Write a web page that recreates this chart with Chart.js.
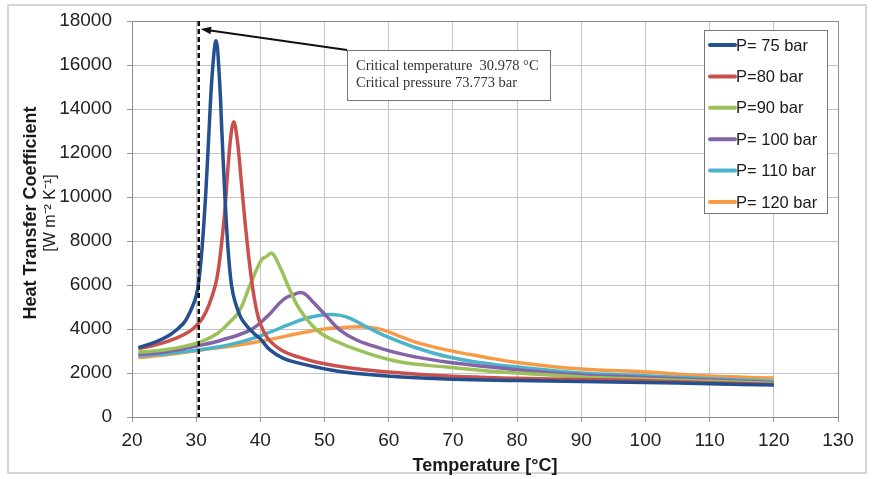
<!DOCTYPE html>
<html>
<head>
<meta charset="utf-8">
<script src="https://cdn.jsdelivr.net/npm/chart.js@4/dist/chart.umd.min.js"></script>
<style>
html, body { margin: 0; padding: 0; background: #fff; }
</style>
</head>
<body>
<canvas id="htc" width="874" height="479"></canvas>
<script>
// values (temperature in °C, HTC in W m-2 K-1)
const pressures = ['P= 75 bar', 'P=80 bar', 'P=90 bar', 'P= 100 bar', 'P= 110 bar', 'P= 120 bar'];
const colors = ['#24508F', '#C9504D', '#9BC25A', '#8464A6', '#4BB3CC', '#F79A46'];

const tempP75 = [21, 24, 26, 28, 29, 30, 30.5, 31, 31.5, 32, 32.5, 33.1, 33.6, 34, 34.5, 35, 35.5, 36, 37, 38, 39, 40, 41.5, 43.5, 46, 51, 56, 62, 70, 80, 90, 100, 110, 120];
const htcP75  = [3150, 3450, 3750, 4250, 4750, 5500, 6400, 8000, 10200, 13000, 15600, 17100, 15500, 13000, 9900, 7500, 6000, 5300, 4500, 4100, 3800, 3550, 3050, 2680, 2450, 2140, 1950, 1820, 1720, 1660, 1610, 1570, 1510, 1450];

const tempP80 = [21, 24, 27, 29, 30, 31, 32, 33, 33.5, 34, 34.5, 35, 35.5, 35.9, 36.4, 37, 37.6, 38.3, 39, 39.7, 40.5, 41.5, 43.5, 46, 49, 54, 62, 70, 80, 90, 100, 110, 120];
const htcP80  = [3100, 3300, 3600, 3900, 4150, 4500, 5100, 6000, 6800, 8000, 9500, 11500, 13000, 13400, 12600, 10800, 8900, 7000, 5500, 4500, 3900, 3450, 3000, 2720, 2480, 2230, 2000, 1850, 1760, 1700, 1650, 1560, 1480];

const tempP90 = [21, 25, 28, 31, 33.4, 35, 36.7, 38.4, 40.2, 41, 41.8, 43, 44.6, 46.2, 48.8, 51.3, 56.6, 61.8, 69, 75, 80, 90, 100, 110, 120];
const htcP90  = [2950, 3050, 3200, 3450, 3820, 4250, 4800, 6000, 7150, 7300, 7450, 6850, 5770, 4860, 3950, 3500, 2900, 2500, 2270, 2100, 2000, 1820, 1720, 1630, 1520];

const tempP100 = [21, 25, 30.8, 34, 38.4, 41, 43.5, 45, 46.6, 48.2, 50.4, 52.4, 55, 59, 61.8, 64, 69, 75, 80, 90, 100, 110, 120];
const htcP100  = [2850, 2950, 3270, 3500, 3950, 4550, 5320, 5550, 5640, 5230, 4550, 3950, 3500, 3100, 2880, 2740, 2500, 2300, 2150, 1910, 1800, 1680, 1560];

const tempP110 = [21, 26, 33.4, 38, 41.2, 44, 46.3, 48.5, 50.7, 52.5, 54, 56.6, 59.1, 61.8, 64, 69, 75, 80, 90, 100, 110, 120];
const htcP110  = [2780, 2900, 3180, 3500, 3820, 4150, 4410, 4580, 4660, 4620, 4480, 4090, 3730, 3410, 3170, 2750, 2440, 2270, 2000, 1880, 1740, 1620];

const tempP120 = [21, 26, 30.7, 35, 38.5, 42, 46.3, 50, 53, 55.2, 57, 59.2, 61.5, 64.4, 69, 75, 79.5, 90, 100, 110, 120];
const htcP120  = [2700, 2850, 3050, 3200, 3360, 3550, 3820, 4000, 4070, 4100, 4070, 3950, 3690, 3380, 3050, 2720, 2500, 2180, 2050, 1860, 1770];

const xTicks = [20, 30, 40, 50, 60, 70, 80, 90, 100, 110, 120, 130];
const yTicks = [0, 2000, 4000, 6000, 8000, 10000, 12000, 14000, 16000, 18000];

const critLineT = 30.4;   // where the dashed marker sits in the picture
const critText = ['Critical temperature  30.978 °C', 'Critical pressure 73.773 bar'];

const temps = [tempP75, tempP80, tempP90, tempP100, tempP110, tempP120];
const htcs = [htcP75, htcP80, htcP90, htcP100, htcP110, htcP120];

const SANS = '"Liberation Sans", Arial, sans-serif';

const datasets = pressures.map((label, i) => ({
    label: label,
    data: temps[i].map((t, j) => ({ x: t, y: htcs[i][j] })),
    borderColor: colors[i],
    backgroundColor: colors[i],
    borderWidth: 3.5,
    pointRadius: 0,
    tension: 0.4,
    fill: false
}));

// frame, dashed line, annotation, legend and y title
const extras = {
    id: 'extras',
    beforeDraw(chart) {
        const c = chart.ctx;
        c.save();
        c.fillStyle = '#fff';
        c.fillRect(0, 0, chart.width, chart.height);
        c.strokeStyle = '#c8c8c8';
        c.lineWidth = 1.5;
        c.strokeRect(8, 5, 858, 468);
        c.restore();
    },
    afterDatasetsDraw(chart) {
        const c = chart.ctx;
        const a = chart.chartArea;
        const xs = chart.scales.x;
        c.save();

        // critical temperature marker
        const xc = xs.getPixelForValue(critLineT);
        c.strokeStyle = '#111';
        c.lineWidth = 2.5;
        c.setLineDash([5, 3]);
        c.beginPath();
        c.moveTo(xc, a.top);
        c.lineTo(xc, a.bottom);
        c.stroke();
        c.setLineDash([]);

        // annotation box + arrow
        const bx = 347, by = 50, bw = 203, bh = 50;
        c.fillStyle = '#fff';
        c.fillRect(bx, by, bw, bh);
        c.strokeStyle = '#777';
        c.lineWidth = 1;
        c.strokeRect(bx + 0.5, by + 0.5, bw, bh);
        c.fillStyle = '#333';
        c.font = '14.5px "Liberation Serif", serif';
        c.textBaseline = 'middle';
        c.textAlign = 'left';
        c.fillText(critText[0], bx + 9, by + 16);
        c.fillText(critText[1], bx + 9, by + 33);

        const ax0 = bx, ay0 = by, ax1 = xc + 2, ay1 = a.top + 8;
        c.strokeStyle = '#111';
        c.lineWidth = 1.8;
        c.beginPath();
        c.moveTo(ax0, ay0);
        c.lineTo(ax1 + 6, ay1 + 1);
        c.stroke();
        const ang = Math.atan2(ay0 - ay1, ax0 - ax1);
        c.fillStyle = '#111';
        c.beginPath();
        c.moveTo(ax1, ay1);
        c.lineTo(ax1 + 11 * Math.cos(ang - 0.35), ay1 + 11 * Math.sin(ang - 0.35));
        c.lineTo(ax1 + 11 * Math.cos(ang + 0.35), ay1 + 11 * Math.sin(ang + 0.35));
        c.closePath();
        c.fill();

        // legend
        const lx = 704, ly = 30, lw = 123, lh = 183;
        c.fillStyle = '#fff';
        c.fillRect(lx, ly, lw, lh);
        c.strokeStyle = '#777';
        c.lineWidth = 1;
        c.strokeRect(lx + 0.5, ly + 0.5, lw, lh);
        c.font = '16.5px ' + SANS;
        c.textBaseline = 'middle';
        chart.data.datasets.forEach((ds, i) => {
            const yy = 45 + i * 31.4;
            c.strokeStyle = ds.borderColor;
            c.lineWidth = 4;
            c.lineCap = 'round';
            c.beginPath();
            c.moveTo(710, yy);
            c.lineTo(735, yy);
            c.stroke();
            c.fillStyle = '#1a1a1a';
            c.fillText(ds.label, 736, yy + 1);
        });

        // y axis title, two lines
        c.fillStyle = '#1a1a1a';
        c.textAlign = 'center';
        c.translate(31, (a.top + a.bottom) / 2 - 6);
        c.rotate(-Math.PI / 2);
        c.font = 'bold 18px ' + SANS;
        c.fillText('Heat Transfer Coefficient', 0, 0);
        c.font = '16px ' + SANS;
        c.fillText('[W m\u207B\u00B2 K\u207B\u00B9]', 0, 20);
        c.restore();
    }
};

new Chart(document.getElementById('htc'), {
    type: 'line',
    data: { datasets: datasets },
    options: {
        responsive: false,
        animation: false,
        layout: { padding: { top: 21, right: 36, left: 0, bottom: 0 } },
        plugins: {
            legend: { display: false },
            tooltip: { enabled: false }
        },
        scales: {
            x: {
                type: 'linear',
                min: 20,
                max: 130,
                afterBuildTicks: (s) => { s.ticks = xTicks.map(v => ({ value: v })); },
                afterFit: (s) => { s.height = 62; s.paddingLeft = 0; s.paddingRight = 0; },
                grid: { color: '#c4c4c4', lineWidth: 1, tickLength: 5, tickColor: '#999' },
                border: { color: '#8c8c8c', width: 1 },
                ticks: {
                    color: '#222',
                    font: { family: SANS, size: 19 },
                    padding: 7,
                    maxRotation: 0
                },
                title: {
                    display: true,
                    text: 'Temperature [°C]',
                    color: '#1a1a1a',
                    font: { family: SANS, size: 18, weight: 'bold' },
                    padding: { top: 0, bottom: 2 }
                }
            },
            y: {
                min: 0,
                max: 18000,
                afterBuildTicks: (s) => { s.ticks = yTicks.map(v => ({ value: v })); },
                afterFit: (s) => { s.width = 132; s.paddingTop = 0; s.paddingBottom = 0; },
                grid: { color: '#c4c4c4', lineWidth: 1, tickLength: 5, tickColor: '#999' },
                border: { color: '#8c8c8c', width: 1 },
                ticks: {
                    color: '#222',
                    font: { family: SANS, size: 19 },
                    padding: 15,
                    callback: (v) => String(v)
                }
            },
            x2: {
                type: 'linear', position: 'top', min: 20, max: 130,
                grid: { display: false }, ticks: { display: false },
                border: { color: '#8c8c8c', width: 1 },
                afterFit: (s) => { s.height = 0; }
            },
            y2: {
                type: 'linear', position: 'right', min: 0, max: 18000,
                grid: { display: false }, ticks: { display: false },
                border: { color: '#8c8c8c', width: 1 },
                afterFit: (s) => { s.width = 0; }
            }
        }
    },
    plugins: [extras]
});
</script>
</body>
</html>
